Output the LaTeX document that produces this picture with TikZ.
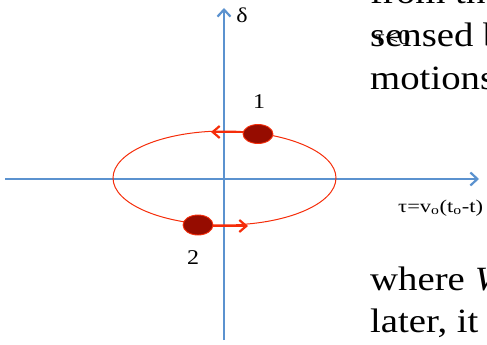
\documentclass[tikz,border=0pt]{standalone}
\usepackage{fontspec}
\setmainfont{Liberation Serif}
\usetikzlibrary{arrows.meta,shapes.geometric}
\definecolor{axisblue}{RGB}{91,146,207}
\definecolor{ringred}{RGB}{245,45,10}
\definecolor{dotred}{RGB}{150,12,0}
\tikzset{
  axisline/.style={draw=axisblue, line width=2.8pt, -{Straight Barb[length=7pt,width=13pt,line width=2.2pt]}},
  ringline/.style={draw=ringred, line width=1pt},
  movearrow/.style={draw=ringred, line width=2.8pt, -{Straight Barb[length=7pt,width=12pt,line width=2.2pt]}},
  dotmark/.style={draw=ringred, line width=0.9pt, fill=dotred},
  bigtext/.style={anchor=base west, inner sep=0pt, font=\fontsize{34}{40}\selectfont},
  smalllabel/.style={inner sep=0pt, font=\fontsize{21}{24}\selectfont},
}
\newcommand{\wide}[1]{\scalebox{1.14}[1]{#1}}
\begin{document}
\begin{tikzpicture}[x=1pt,y=-1pt]
\useasboundingbox (0,0) rectangle (487,345);
\clip (0,0) rectangle (487,345);
% background slide text
\node[bigtext] (t1) at (370,4) {\wide{from the}};
\node[bigtext] (t2) at (370,47) {\wide{sensed by}};
\node[bigtext] (t3) at (370,89) {\wide{motions}};
\node[bigtext] (t4) at (370,290) {\wide{where \textit{W}}};
\node[bigtext] (t5) at (370,332) {\wide{later, it}};
\node[smalllabel, anchor=base west] (neg) at (375,45) {\wide{τ<0}};
% axes
\coordinate (vb) at (224,340);
\coordinate (vt) at (224,8);
\coordinate (hl) at (5,179);
\coordinate (hr) at (479,179);
\draw[axisline] (vb) -- (vt);
\draw[axisline] (hl) -- (hr);
% orbit
\node[ringline, ellipse, minimum width=223pt, minimum height=94pt, inner sep=0pt] (ring) at (224.5,178) {};
% points
\node[dotmark, ellipse, minimum width=30pt, minimum height=19pt, inner sep=0pt] (p1) at (258,134) {};
\node[dotmark, ellipse, minimum width=30pt, minimum height=20pt, inner sep=0pt] (p2) at (198,225) {};
\coordinate (a1) at (211,132);
\coordinate (a2) at (248,226);
\draw[movearrow] (p1.west |- a1) -- (a1);
\draw[movearrow] (p2.east |- a2) -- (a2);
% labels
\node[smalllabel] (l1) at (259,102) {\wide{1}};
\node[smalllabel] (l2) at (193,258) {\wide{2}};
\node[smalllabel] (ld) at (242,15) {\wide{δ}};
\node[inner sep=0pt, anchor=base west, font=\fontsize{18}{22}\selectfont] (tau) at (398,212) {\scalebox{1.25}[1]{τ=v\textsubscript{o}(t\textsubscript{o}-t)}};
\end{tikzpicture}
\end{document}
